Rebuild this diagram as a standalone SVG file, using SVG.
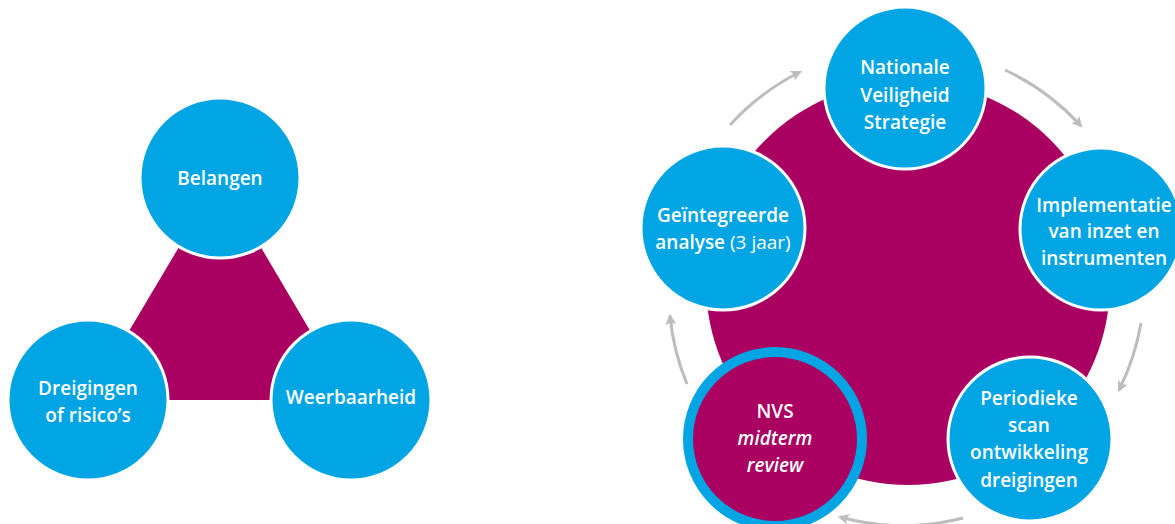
<svg xmlns="http://www.w3.org/2000/svg" width="1175" height="524" viewBox="0 0 1175 524">
<defs>
<style>
.pink{fill:#a90061}
.node{fill:#01a5e4;stroke:#fff;stroke-width:3}
.t{font-family:"Open Sans","Noto Sans",sans-serif;font-weight:600;font-size:19px;fill:#fff;text-anchor:middle}
.it{font-style:italic}
.lt{font-weight:400}
.arr{fill:none;stroke:#bdbdbd;stroke-width:3;marker-end:url(#ah)}
</style>
<marker id="ah" viewBox="0 0 10 10" refX="8" refY="5" markerWidth="3.6" markerHeight="3.6" orient="auto" markerUnits="strokeWidth">
<path d="M0,0 L10,5 L0,10 L2,5 Z" fill="#bdbdbd"/>
</marker>
</defs>
<rect width="1175" height="524" fill="#fff"/>
<!-- Left diagram -->
<polygon class="pink" points="220,178 88,400 351,400"/>
<g id="belangen"><circle class="node" cx="220" cy="178" r="80"/><text class="t" x="220" y="185">Belangen</text></g>
<g id="dreigingen"><circle class="node" cx="88" cy="400" r="80"/><text class="t" x="88" y="395">Dreigingen</text><text class="t" x="88" y="422">of risico’s</text></g>
<g id="weerbaarheid"><circle class="node" cx="351" cy="400" r="80"/><text class="t" x="351" y="404">Weerbaarheid</text></g>
<!-- Right diagram -->
<circle class="pink" cx="908" cy="283" r="202"/>
<g id="connectors">
<path class="arr" d="M730,125 A238,238 0 0 1 800,72"/>
<path class="arr" d="M1005,70 A238,238 0 0 1 1081,126"/>
<path class="arr" d="M1141,323 A238,238 0 0 1 1119,390"/>
<path class="arr" d="M963,518 A238,238 0 0 1 840,517"/>
<path class="arr" d="M687,384 A238,238 0 0 1 670,316"/>
</g>
<g id="nvs-strategie"><circle class="node" cx="905" cy="88" r="81"/><text class="t" x="905" y="74">Nationale</text><text class="t" x="905" y="102">Veiligheid</text><text class="t" x="905" y="129">Strategie</text></g>
<g id="implementatie"><circle class="node" cx="1101" cy="229" r="81"/><text class="t" x="1104" y="212">Implementatie</text><text class="t" x="1104" y="238">van inzet en</text><text class="t" x="1104" y="265">instrumenten</text></g>
<g id="periodieke"><circle class="node" cx="1030" cy="439" r="82"/><text class="t" x="1029" y="405">Periodieke</text><text class="t" x="1029" y="432">scan</text><text class="t" x="1029" y="459">ontwikkeling</text><text class="t" x="1029" y="487">dreigingen</text></g>
<g id="midterm"><circle cx="775" cy="439" r="87" fill="#a90061" stroke="#01a5e4" stroke-width="10"/><text class="t" x="775" y="418">NVS</text><text class="t it" x="775" y="445">midterm</text><text class="t it" x="775" y="472">review</text></g>
<g id="analyse"><circle class="node" cx="723" cy="228" r="82"/><text class="t" x="723" y="222">Geïntegreerde</text><text class="t" x="723" y="249">analyse <tspan class="lt">(3 jaar)</tspan></text></g>
</svg>
